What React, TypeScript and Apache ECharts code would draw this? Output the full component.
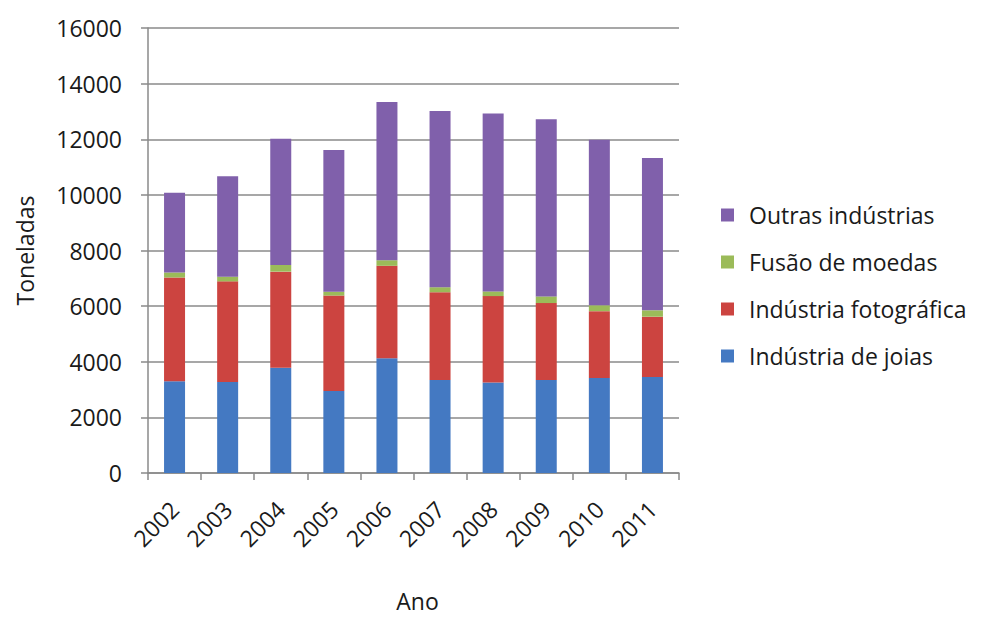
import React, { useEffect, useRef } from "react";
import * as echarts from "echarts";

// Anos e toneladas por destino
const years = ["2002", "2003", "2004", "2005", "2006", "2007", "2008", "2009", "2010", "2011"];
const joias = [3300, 3270, 3780, 2950, 4130, 3340, 3250, 3340, 3420, 3450];
const fotografica = [3730, 3620, 3460, 3430, 3320, 3160, 3110, 2770, 2400, 2170];
const moedas = [180, 170, 240, 140, 200, 180, 170, 240, 210, 230];
const outras = [2870, 3610, 4540, 5090, 5690, 6340, 6400, 6370, 5950, 5480];

const seriesNames = ["Indústria de joias", "Indústria fotográfica", "Fusão de moedas", "Outras indústrias"];
const seriesColors = ["#4479c2", "#cc4440", "#9bbb59", "#8060ab"];
const legendOrder = ["Outras indústrias", "Fusão de moedas", "Indústria fotográfica", "Indústria de joias"];

const FONT = "'Open Sans', sans-serif";
const TEXT = "#1a1a1a";

export default function App() {
  const ref = useRef<HTMLDivElement>(null);

  useEffect(() => {
    if (!ref.current) return;
    const chart = echarts.init(ref.current, undefined, { renderer: "svg" });
    const values = [joias, fotografica, moedas, outras];

    chart.setOption({
      animation: false,
      backgroundColor: "#ffffff",
      textStyle: { fontFamily: FONT },
      grid: { left: 148, right: 302, top: 28, bottom: 139, containLabel: false },
      legend: {
        orient: "vertical",
        left: 721,
        top: 202,
        padding: 0,
        data: legendOrder,
        itemWidth: 13,
        itemHeight: 13,
        itemGap: 21,
        icon: "rect",
        textStyle: { fontFamily: FONT, fontSize: 23, color: TEXT, lineHeight: 26, padding: [0, 0, 0, 10] },
      },
      xAxis: {
        type: "category",
        data: years,
        name: "Ano",
        nameLocation: "middle",
        nameGap: 116,
        nameTextStyle: { fontFamily: FONT, fontSize: 23, color: TEXT, padding: [0, 0, 0, 8] },
        axisLine: { lineStyle: { color: "#8a8a8a", width: 1.5 } },
        axisTick: { show: true, length: 7, lineStyle: { color: "#8a8a8a", width: 1.5 } },
        axisLabel: { rotate: 45, fontFamily: FONT, fontSize: 23, color: TEXT, margin: 32 },
      },
      yAxis: {
        type: "value",
        min: 0,
        max: 16000,
        interval: 2000,
        name: "Toneladas",
        nameLocation: "middle",
        nameGap: 112,
        nameTextStyle: { fontFamily: FONT, fontSize: 23, color: TEXT },
        axisLine: { show: true, lineStyle: { color: "#8a8a8a", width: 1.5 } },
        axisTick: { show: true, length: 7, lineStyle: { color: "#8a8a8a", width: 1.5 } },
        axisLabel: { fontFamily: FONT, fontSize: 23, color: TEXT, margin: 26, formatter: (v: number) => String(v) },
        splitLine: { lineStyle: { color: "#8a8a8a", width: 1.5 } },
      },
      series: seriesNames.map((name, i) => ({
        name,
        type: "bar",
        stack: "total",
        barWidth: 21,
        data: values[i],
        itemStyle: { color: seriesColors[i] },
      })),
    });

    return () => chart.dispose();
  }, []);

  return <div ref={ref} style={{ position: "fixed", left: 0, top: 0, width: 981, height: 617 }} />;
}
